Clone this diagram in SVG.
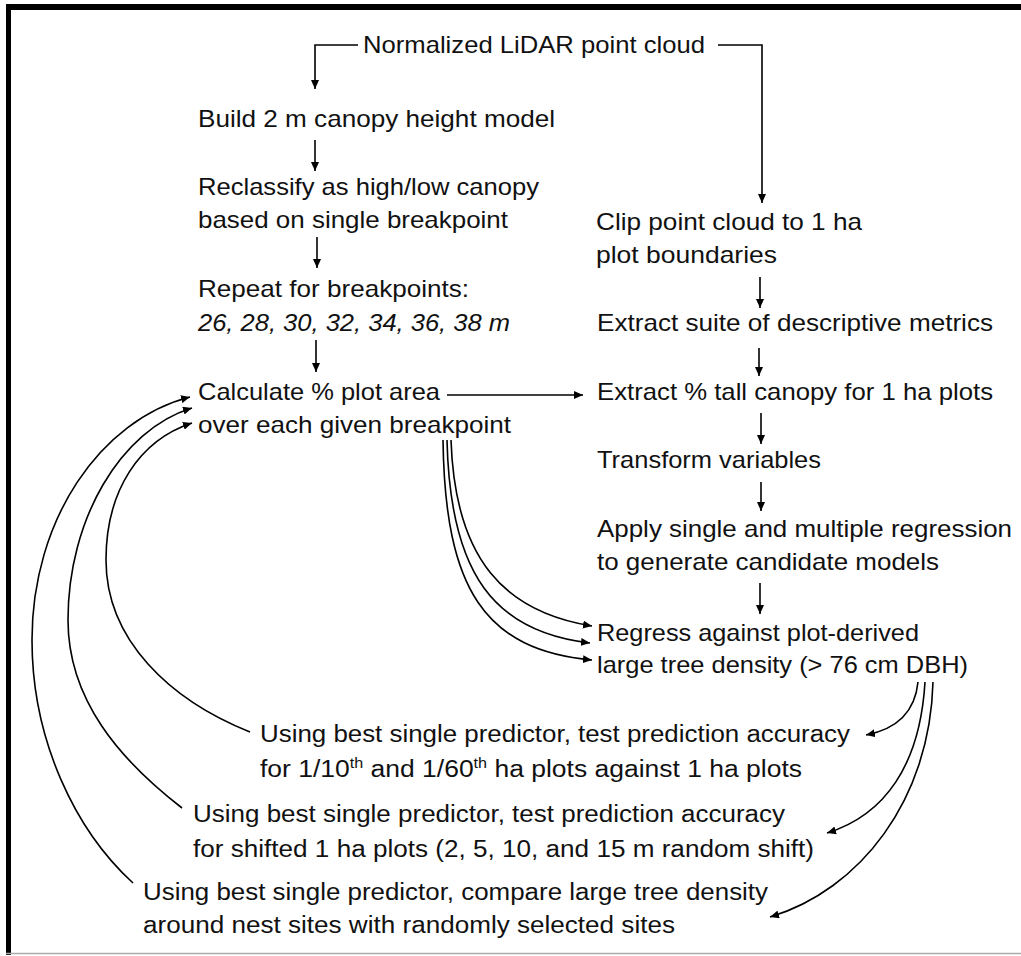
<svg xmlns="http://www.w3.org/2000/svg" width="1021" height="956" viewBox="0 0 1021 956">
<style>
text{font-family:"Liberation Sans",Arial,sans-serif;font-size:24px;fill:#111}
.s{font-size:23px}
.it{font-style:italic}
.c{fill:none;stroke:#000;stroke-width:1.6}
</style>
<defs>
<marker id="ah" markerUnits="userSpaceOnUse" markerWidth="10" markerHeight="8" refX="9" refY="4" orient="auto">
<path d="M0,0 L9,4 L0,8 z" fill="#000"/>
</marker>
</defs>
<rect x="0" y="0" width="1021" height="956" fill="#fff"/>
<g id="frame">
<rect x="6" y="4" width="1015" height="6" fill="#000"/>
<rect x="6" y="4" width="5" height="951" fill="#000"/>
<line x1="6" y1="953.5" x2="1021" y2="953.5" stroke="#aaa" stroke-width="1.5"/>
</g>
<g id="connectors">
<path class="c" d="M358,45 H315 V89" marker-end="url(#ah)"/>
<path class="c" d="M718,45 H762 V203" marker-end="url(#ah)"/>
<path class="c" d="M315,140 V171" marker-end="url(#ah)"/>
<path class="c" d="M317,237 V268" marker-end="url(#ah)"/>
<path class="c" d="M316,340 V372" marker-end="url(#ah)"/>
<path class="c" d="M447,395 H583" marker-end="url(#ah)"/>
<path class="c" d="M760,277 V308" marker-end="url(#ah)"/>
<path class="c" d="M759,348 V376" marker-end="url(#ah)"/>
<path class="c" d="M761,413 V444" marker-end="url(#ah)"/>
<path class="c" d="M761,482 V511" marker-end="url(#ah)"/>
<path class="c" d="M760,583 V614" marker-end="url(#ah)"/>
<path class="c" d="M451,440 C455,560 505,612 592,626" marker-end="url(#ah)"/>
<path class="c" d="M447,440 C450,575 495,632 590,643" marker-end="url(#ah)"/>
<path class="c" d="M443,440 C445,590 485,650 592,660" marker-end="url(#ah)"/>
<path class="c" d="M918,682 C915,712 897,729 866,735" marker-end="url(#ah)"/>
<path class="c" d="M925,682 C920,765 885,815 827,833" marker-end="url(#ah)"/>
<path class="c" d="M933,682 C930,800 860,890 770,917" marker-end="url(#ah)"/>
<path class="c" d="M133,883 C75,830 32,740 32,640 C32,520 100,420 190,397" marker-end="url(#ah)"/>
<path class="c" d="M182,808 C120,760 68,700 68,620 C68,520 120,430 192,408" marker-end="url(#ah)"/>
<path class="c" d="M250,732 C170,700 106,640 106,560 C106,490 140,440 192,423" marker-end="url(#ah)"/>
</g>
<g id="n-lidar"><text x="363" y="53" textLength="342" lengthAdjust="spacingAndGlyphs">Normalized LiDAR point cloud</text></g>
<g id="n-chm"><text x="198" y="127" textLength="357" lengthAdjust="spacingAndGlyphs">Build 2 m canopy height model</text></g>
<g id="n-reclass">
<text x="198" y="195" textLength="341" lengthAdjust="spacingAndGlyphs">Reclassify as high/low canopy</text>
<text x="198" y="228" textLength="310" lengthAdjust="spacingAndGlyphs">based on single breakpoint</text>
</g>
<g id="n-repeat">
<text x="198" y="297" textLength="271" lengthAdjust="spacingAndGlyphs">Repeat for breakpoints:</text>
<text class="it" x="198" y="331" textLength="312" lengthAdjust="spacingAndGlyphs">26, 28, 30, 32, 34, 36, 38 m</text>
</g>
<g id="n-calc">
<text x="198" y="400" textLength="242" lengthAdjust="spacingAndGlyphs">Calculate % plot area</text>
<text x="198" y="433" textLength="313" lengthAdjust="spacingAndGlyphs">over each given breakpoint</text>
</g>
<g id="n-clip">
<text x="596" y="230" textLength="266" lengthAdjust="spacingAndGlyphs">Clip point cloud to 1 ha</text>
<text x="596" y="263" textLength="181" lengthAdjust="spacingAndGlyphs">plot boundaries</text>
</g>
<g id="n-suite"><text x="597" y="331" textLength="396" lengthAdjust="spacingAndGlyphs">Extract suite of descriptive metrics</text></g>
<g id="n-tall"><text x="597" y="400" textLength="396" lengthAdjust="spacingAndGlyphs">Extract % tall canopy for 1 ha plots</text></g>
<g id="n-transform"><text x="597" y="468" textLength="224" lengthAdjust="spacingAndGlyphs">Transform variables</text></g>
<g id="n-apply">
<text x="597" y="537" textLength="415" lengthAdjust="spacingAndGlyphs">Apply single and multiple regression</text>
<text x="597" y="570" textLength="342" lengthAdjust="spacingAndGlyphs">to generate candidate models</text>
</g>
<g id="n-regress">
<text x="597" y="641" textLength="322" lengthAdjust="spacingAndGlyphs">Regress against plot-derived</text>
<text x="597" y="673" textLength="371" lengthAdjust="spacingAndGlyphs">large tree density (&gt; 76 cm DBH)</text>
</g>
<g id="n-scale">
<text class="s" x="260" y="742" textLength="590" lengthAdjust="spacingAndGlyphs">Using best single predictor, test prediction accuracy</text>
<text class="s" x="260" y="777" textLength="542" lengthAdjust="spacingAndGlyphs">for 1/10<tspan font-size="14" dy="-9">th</tspan><tspan dy="9"> and 1/60</tspan><tspan font-size="14" dy="-9">th</tspan><tspan dy="9"> ha plots against 1 ha plots</tspan></text>
</g>
<g id="n-shift">
<text class="s" x="193" y="822" textLength="592" lengthAdjust="spacingAndGlyphs">Using best single predictor, test prediction accuracy</text>
<text class="s" x="193" y="857" textLength="621" lengthAdjust="spacingAndGlyphs">for shifted 1 ha plots (2, 5, 10, and 15 m random shift)</text>
</g>
<g id="n-nest">
<text class="s" x="143" y="900" textLength="625" lengthAdjust="spacingAndGlyphs">Using best single predictor, compare large tree density</text>
<text class="s" x="143" y="933" textLength="532" lengthAdjust="spacingAndGlyphs">around nest sites with randomly selected sites</text>
</g>
</svg>
